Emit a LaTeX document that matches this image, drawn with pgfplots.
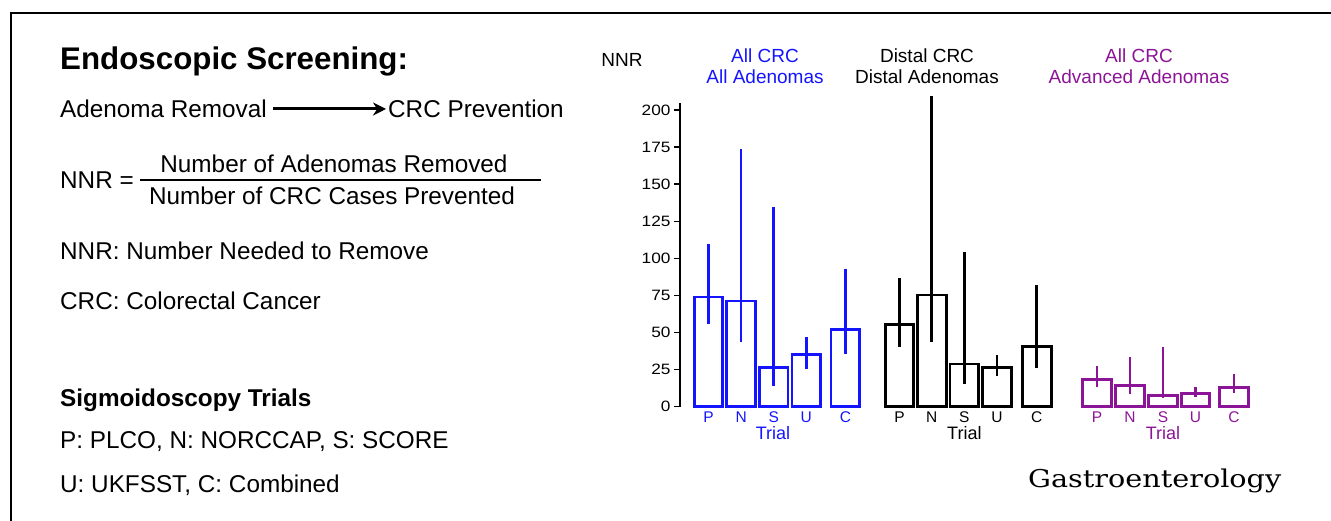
\documentclass[border=0pt]{standalone}
\usepackage{fontspec}
\setmainfont{Liberation Sans}
\newfontfamily\tickfont[FakeStretch=1.15]{Liberation Sans}
\newfontfamily\logofont[FakeStretch=1.17]{DejaVu Serif}
\usepackage{pgfplots}
\usepackage{pgfplotstable}
\pgfplotsset{compat=1.18}
\usetikzlibrary{arrows.meta}
\definecolor{nblue}{RGB}{20,20,255}
\definecolor{npurple}{RGB}{140,20,150}

% x = position, y = NNR, ep/em = distance to upper/lower CI limit
\pgfplotstableread{
x y ep em
0 74 36 18.5
1 71.3 102.2 27.9
2 26.5 107.9 12.5
3 35.3 11.9 9.7
4.2 52 40.6 16.5
}\blueT
\pgfplotstableread{
x y ep em
5.86 55.5 31 15
6.85 75.3 134.2 31.9
7.85 28.8 75.7 13.5
8.85 26.3 8.6 5.6
10.07 40.7 41.3 14.4
}\blackT
\pgfplotstableread{
x y ep em
11.92 18.5 9.1 5
12.93 14.2 19.5 5.9
13.94 7.4 32.6 1.8
14.94 9 4 2.3
16.12 12.8 9 3.8
}\purpleT

\begin{document}
\begin{tikzpicture}[x=1pt,y=1pt]
\useasboundingbox (0,0) rectangle (1331,521);
\draw[line width=2pt] (11,-5) -- (11,508) -- (1340,508);

% left panel text
\node[anchor=base west, inner sep=0, font=\fontsize{31.3}{33}\selectfont\bfseries] at (60,451) {Endoscopic Screening:};
\node[anchor=base west, inner sep=0, font=\fontsize{24.3}{26}\selectfont] at (60,403.5) {Adenoma Removal};
\draw[line width=3pt, -{Stealth[length=13pt,width=13pt]}] (273,412) -- (386,412);
\node[anchor=base west, inner sep=0, font=\fontsize{24.3}{26}\selectfont] at (388,403.5) {CRC Prevention};
\node[anchor=base west, inner sep=0, font=\fontsize{24.3}{26}\selectfont] at (60,332.5) {NNR =};
\node[anchor=base, inner sep=0, font=\fontsize{24.3}{26}\selectfont] at (334,348.5) {Number of Adenomas Removed};
\draw[line width=1.2pt] (140,341) -- (541,341);
\node[anchor=base, inner sep=0, font=\fontsize{24.3}{26}\selectfont] at (332,316.5) {Number of CRC Cases Prevented};
\node[anchor=base west, inner sep=0, font=\fontsize{24.3}{26}\selectfont] at (60,261.7) {NNR: Number Needed to Remove};
\node[anchor=base west, inner sep=0, font=\fontsize{24.3}{26}\selectfont] at (60,211) {CRC: Colorectal Cancer};
\node[anchor=base west, inner sep=0, font=\fontsize{24.3}{26}\selectfont\bfseries] at (60,114.5) {Sigmoidoscopy Trials};
\node[anchor=base west, inner sep=0, font=\fontsize{24.3}{26}\selectfont] at (60,72.5) {P: PLCO, N: NORCCAP, S: SCORE};
\node[anchor=base west, inner sep=0, font=\fontsize{24.3}{26}\selectfont] at (60,28.5) {U: UKFSST, C: Combined};
\node[anchor=base west, inner sep=0, font=\logofont\fontsize{24.5}{27}\selectfont] at (1028,33) {Gastroenterology};

% chart header text
\node[font=\fontsize{19}{21}\selectfont] at (622,461) {NNR};
\node[nblue, align=center, font=\fontsize{19}{21}\selectfont] at (765,455) {All CRC\\All Adenomas};
\node[black, align=center, font=\fontsize{19}{21}\selectfont] at (927,455) {Distal CRC\\Distal Adenomas};
\node[npurple, align=center, font=\fontsize{19}{21}\selectfont] at (1139,455) {All CRC\\Advanced Adenomas};

\begin{axis}[
  at={(680pt,114.3pt)}, anchor=south west,
  scale only axis, width=572.9pt, height=304.1pt,
  xmin=-0.874, xmax=16.7, ymin=0, ymax=205,
  axis x line=bottom, axis y line=left,
  x axis line style={draw=none},
  y axis line style={-, line width=2.4pt},
  ytick={0,25,...,200},
  xtick={0,1,2,3,4.2,5.86,6.85,7.85,8.85,10.07,11.92,12.93,13.94,14.94,16.12},
  xticklabels={\textcolor{nblue}{P},\textcolor{nblue}{N},\textcolor{nblue}{S},\textcolor{nblue}{U},\textcolor{nblue}{C},
    P,N,S,U,C,
    \textcolor{npurple}{P},\textcolor{npurple}{N},\textcolor{npurple}{S},\textcolor{npurple}{U},\textcolor{npurple}{C}},
  major x tick style={draw=none},
  tick align=outside,
  major tick length=6pt,
  ytick style={line width=1.4pt, black},
  yticklabel style={font=\tickfont\fontsize{15}{16}\selectfont},
  xticklabel style={font=\fontsize{15.5}{16}\selectfont, anchor=base, yshift=-9.5pt},
  /pgf/number format/assume math mode=true,
  clip=false,
]
\addplot[ybar, bar width=0.88, bar shift=0pt, draw=nblue, fill=none, line width=2.8pt,
  error bars/.cd, y dir=both, y explicit, error mark=none,
  error bar style={line width=2.8pt, nblue}]
  table[x=x, y=y, y error plus=ep, y error minus=em] {\blueT};
\addplot[ybar, bar width=0.88, bar shift=0pt, draw=black, fill=none, line width=2.8pt,
  error bars/.cd, y dir=both, y explicit, error mark=none,
  error bar style={line width=2.8pt, black}]
  table[x=x, y=y, y error plus=ep, y error minus=em] {\blackT};
\addplot[ybar, bar width=0.88, bar shift=0pt, draw=npurple, fill=none, line width=2.8pt,
  error bars/.cd, y dir=both, y explicit, error mark=none,
  error bar style={line width=2.8pt, npurple}]
  table[x=x, y=y, y error plus=ep, y error minus=em] {\purpleT};
\node[nblue, anchor=base, font=\fontsize{18}{18}\selectfont] at (axis cs:1.98,0) [yshift=-33.3pt] {Trial};
\node[black, anchor=base, font=\fontsize{18}{18}\selectfont] at (axis cs:7.85,0) [yshift=-33.3pt] {Trial};
\node[npurple, anchor=base, font=\fontsize{18}{18}\selectfont] at (axis cs:13.94,0) [yshift=-33.3pt] {Trial};
\end{axis}
\end{tikzpicture}
\end{document}
